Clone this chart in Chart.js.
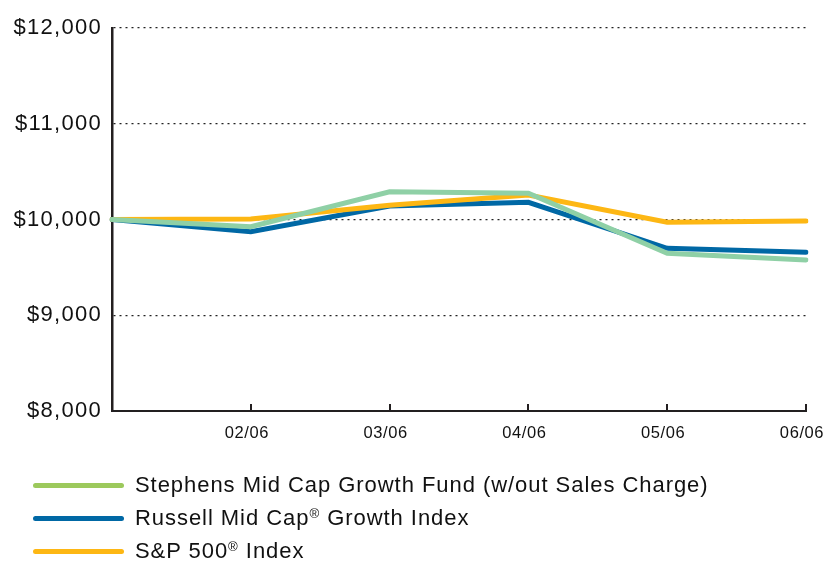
<!DOCTYPE html>
<html>
<head>
<meta charset="utf-8">
<script src="https://cdn.jsdelivr.net/npm/chart.js@4/dist/chart.umd.min.js"></script>
<style>
  html, body { margin: 0; padding: 0; background: #fff; }
  #wrap { position: relative; width: 826px; height: 561px; }
  #c { position: absolute; left: 0; top: 0; }
  .leg { position: absolute; left: 0; font-family: "Liberation Sans", Arial, sans-serif; font-size: 22px; letter-spacing: 0.95px; color: #111; white-space: nowrap; }
  .leg .sw { position: absolute; left: 33px; width: 91px; height: 5px; border-radius: 3px; top: -2.5px; }
  .leg .tx { position: absolute; left: 135px; top: -13px; line-height: 26px; }
  .leg sup { font-size: 0.6em; vertical-align: 0.55em; line-height: 0; }
</style>
</head>
<body>
<div id="wrap">
  <canvas id="c" width="826" height="561"></canvas>
  <div class="leg" style="top:485px"><div class="sw" style="background:#9cc95c"></div><div class="tx">Stephens Mid Cap Growth Fund (w/out Sales Charge)</div></div>
  <div class="leg" style="top:518px"><div class="sw" style="background:#0068a5"></div><div class="tx">Russell Mid Cap<sup>®</sup> Growth Index</div></div>
  <div class="leg" style="top:551px"><div class="sw" style="background:#fdb714"></div><div class="tx">S&amp;P 500<sup>®</sup> Index</div></div>
</div>
<script>
const categories = ['', '02/06', '03/06', '04/06', '05/06', '06/06'];
const fundValues = [10000, 9925, 10290, 10275, 9647, 9577];
const russellValues = [10000, 9873, 10141, 10180, 9699, 9657];
const spValues = [10000, 10005, 10150, 10256, 9971, 9984];
const yTicks = [8000, 9000, 10000, 11000, 12000];

const FONT = '"Liberation Sans", Arial, sans-serif';

const upTicks = {
  id: 'upTicks',
  beforeLayout(chart) {
    [['x', '0.6px'], ['y', '1.3px']].forEach(([id, sp]) => {
      const s = chart.scales[id];
      if (!s || s._wrapped) return;
      const orig = s.draw.bind(s);
      s.draw = function (area) {
        const ctx = chart.ctx;
        ctx.save();
        ctx.letterSpacing = sp;
        orig(area);
        ctx.restore();
      };
      s._wrapped = true;
    });
  },
  afterDraw(chart) {
    const x = chart.scales.x, ctx = chart.ctx;
    const yb = chart.chartArea.bottom;
    ctx.save();
    ctx.strokeStyle = '#231f20';
    ctx.lineWidth = 2;
    for (let i = 1; i < categories.length; i++) {
      const px = Math.round(x.getPixelForValue(i));
      ctx.beginPath();
      ctx.moveTo(px, yb);
      ctx.lineTo(px, yb - 7);
      ctx.stroke();
    }
    ctx.restore();
  }
};

new Chart(document.getElementById('c'), {
  type: 'line',
  data: {
    labels: categories,
    datasets: [
      { label: 'Stephens Mid Cap Growth Fund (w/out Sales Charge)', data: fundValues, borderColor: '#8fd0a6', order: 0 },
      { label: 'Russell Mid Cap® Growth Index', data: russellValues, borderColor: '#0068a5', order: 2 },
      { label: 'S&P 500® Index', data: spValues, borderColor: '#fdb714', order: 1 }
    ].map(d => Object.assign(d, { borderWidth: 5, pointRadius: 0, tension: 0, fill: false, borderCapStyle: 'round', borderJoinStyle: 'miter' }))
  },
  options: {
    responsive: false,
    animation: false,
    devicePixelRatio: 1,
    layout: { padding: { top: 28, right: 20, left: 0, bottom: 0 } },
    plugins: { legend: { display: false }, tooltip: { enabled: false } },
    scales: {
      x: {
        type: 'category',
        offset: false,
        grid: { display: false, drawTicks: false },
        border: { display: true, color: '#231f20', width: 2 },
        ticks: { color: '#111', font: { family: FONT, size: 16.5 }, padding: 13, labelOffset: -4, maxRotation: 0, autoSkip: false },
        afterFit(s) { s.height = 150; s.paddingLeft = 0; s.paddingRight = 0; }
      },
      y: {
        min: 8000, max: 12000,
        afterBuildTicks(s) { s.ticks = yTicks.map(v => ({ value: v })); },
        grid: { color: '#222', lineWidth: 1.3, drawTicks: false },
        border: { display: true, color: '#231f20', width: 2.5, dash: [2, 4] },
        ticks: {
          color: '#111', padding: 10,
          font: { family: FONT, size: 22 },
          callback: v => '$' + v.toLocaleString('en-US')
        },
        afterFit(s) { s.width = 112; s.paddingTop = 0; s.paddingBottom = 0; }
      }
    }
  },
  plugins: [upTicks]
});
</script>
</body>
</html>
